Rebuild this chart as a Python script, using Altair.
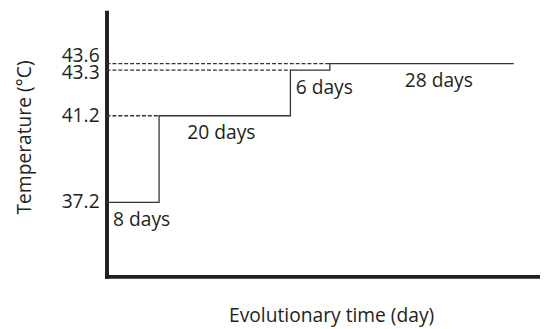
import altair as alt
import numpy as np
import pandas as pd

# ---- data ----
temps = [37.2, 41.2, 43.3, 43.6]          # temperature of each stage (°C)
durations = [8, 20, 6, 28]                 # length of each stage (days)
labels = ["8 days", "20 days", "6 days", "28 days"]
label_day = [1.0, 12.3, 28.8, 45.4]        # where each stage label starts (day)
ytick_values = [37.2, 41.2, 43.3, 43.6]

starts = np.concatenate([[0], np.cumsum(durations)[:-1]]).tolist()
ends = np.cumsum(durations).tolist()

step_df = pd.DataFrame({"day": starts + [ends[-1]], "temp": temps + [temps[-1]]})
dash_df = pd.DataFrame({"day": [0] * (len(temps) - 1), "x1": starts[1:], "temp": temps[1:]})
label_df = pd.DataFrame({"day": label_day, "temp": temps, "label": labels})
tick_df = pd.DataFrame({"temp": ytick_values,
                        "txt": [f"{v:.1f}" for v in ytick_values]})

FONT = "Open Sans"
INK = "#231f20"
FS = 19.5

xscale = alt.Scale(domain=[0, 66], nice=False, zero=False)
yscale = alt.Scale(domain=[33.79, 45.97], nice=False, zero=False)

x_axis = alt.Axis(
    ticks=False, labels=False, grid=False,
    domainWidth=4, domainColor=INK, domainCap="square",
    title="Evolutionary time (day)", titleFont=FONT, titleFontSize=FS,
    titleFontWeight="normal", titleColor=INK,
    titleX=228, titleY=46, titleBaseline="alphabetic", titleAlign="center",
)
y_axis = alt.Axis(
    values=ytick_values, ticks=False, labels=False, grid=False,
    domainWidth=4, domainColor=INK, domainCap="square",
    title="Temperature (°C)", titleFont=FONT, titleFontSize=FS,
    titleFontWeight="normal", titleColor=INK,
    titleX=-83, titleY=126.5, titleAngle=-90,
    titleBaseline="middle", titleAlign="center",
)

X = alt.X("day:Q", scale=xscale, axis=x_axis)
Y = alt.Y("temp:Q", scale=yscale, axis=y_axis)

steps = alt.Chart(step_df).mark_line(
    interpolate="step-after", color="#333333", strokeWidth=1.3
).encode(x=X, y=Y)

dashes = alt.Chart(dash_df).mark_rule(
    color="#333333", strokeWidth=1.3, strokeDash=[4, 2]
).encode(x=X, x2="x1:Q", y=Y)

texts = alt.Chart(label_df).mark_text(
    align="left", baseline="alphabetic", dy=24,
    font=FONT, fontSize=FS, color=INK,
).encode(x=X, y=Y, text="label:N")


def tick_labels(test, baseline, dy):
    # y tick labels; the two close top values are nudged apart, as in the reference
    return alt.Chart(tick_df).transform_filter(test).mark_text(
        align="right", baseline=baseline, dx=-7, dy=dy,
        font=FONT, fontSize=FS, color=INK,
    ).encode(x=alt.datum(0, scale=xscale), y=Y, text="txt:N")


tick_lo = tick_labels("datum.temp < 43", "middle", 0)
tick_mid = tick_labels("datum.temp > 43 && datum.temp < 43.5", "middle", 3)
tick_hi = tick_labels("datum.temp > 43.5", "alphabetic", -2)

chart = alt.layer(steps, dashes, texts, tick_lo, tick_mid, tick_hi).properties(
    width=440, height=268,
    background="white",
    autosize=alt.AutoSizeParams(type="none"),
    padding={"left": 100, "top": 2, "right": 0, "bottom": 51},
).configure_view(strokeWidth=0)

chart.save("out.html", embed_options={"renderer": "svg", "actions": False})
